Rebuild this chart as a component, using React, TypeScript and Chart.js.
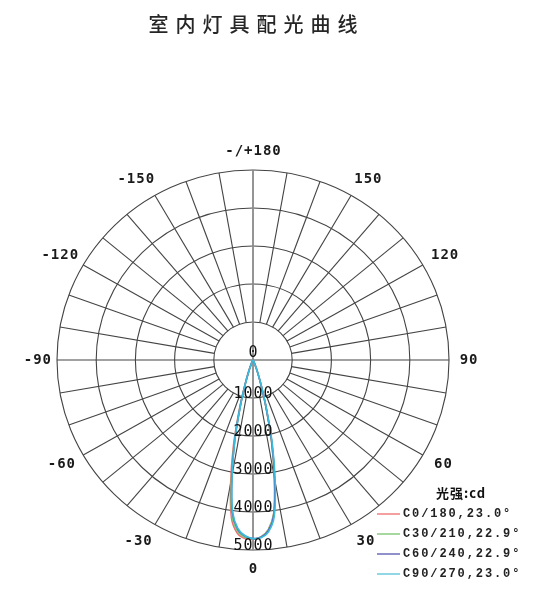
import React, { useEffect, useRef } from "react";
import { Chart, registerables } from "chart.js";

Chart.register(...registerables);

const title = "室内灯具配光曲线";
const gammaAngles = [-90, -60, -45, -40, -35, -30, -25, -20, -17.5, -15, -12.5, -10, -7.5, -5, -2.5, 0, 2.5, 5, 7.5, 10, 12.5, 15, 17.5, 20, 25, 30, 35, 40, 45, 60, 90];
const c0Values = [0, 0, 0, 2, 8, 21, 86, 350, 700, 1350, 2300, 3280, 4200, 4580, 4700, 4720, 4660, 4480, 4060, 3130, 2170, 1260, 645, 318, 79, 20, 8, 2, 0, 0, 0];
const c30Values = [0, 0, 0, 2, 7, 19, 80, 325, 660, 1280, 2210, 3170, 4110, 4520, 4670, 4710, 4660, 4490, 4070, 3140, 2180, 1260, 645, 318, 78, 19, 7, 2, 0, 0, 0];
const c60Values = [0, 0, 0, 2, 7, 18, 76, 312, 630, 1235, 2140, 3090, 4040, 4470, 4640, 4700, 4670, 4510, 4100, 3180, 2220, 1290, 660, 325, 80, 19, 7, 2, 0, 0, 0];
const c90Values = [0, 0, 0, 2, 7, 18, 75, 305, 620, 1220, 2120, 3060, 4010, 4450, 4630, 4700, 4680, 4540, 4150, 3260, 2290, 1330, 690, 340, 84, 20, 8, 2, 0, 0, 0];
const seriesLabels = ["C0/180,23.0°", "C30/210,22.9°", "C60/240,22.9°", "C90/270,23.0°"];
const seriesColors = ["#ee6c72", "#78c878", "#5a62c0", "#3cbcdc"];
const legendColors = ["#f4a0a0", "#a6d8a0", "#9090cc", "#90d8e6"];
const ringValues = [1000, 2000, 3000, 4000, 5000];
const ringLabels = ["0", "1000", "2000", "3000", "4000", "5000"];
const spokeAngles = Array.from({ length: 36 }, (_, i) => i * 10 - 170);
const angleLabelValues = [180, 150, 120, 90, 60, 30, 0, -30, -60, -90, -120, -150];
const angleLabelTexts = ["-/+180", "150", "120", "90", "60", "30", "0", "-30", "-60", "-90", "-120", "-150"];
const legendTitle = "光强:cd";

const rad = (d: number) => (d * Math.PI) / 180;
const toXY = (g: number, i: number) => ({ x: i * Math.sin(rad(g)), y: -i * Math.cos(rad(g)) });

const polarPlugin = {
  id: "polarGrid",
  beforeDatasetsDraw(chart: any) {
    const { ctx, scales } = chart;
    const sx = scales.x, sy = scales.y;
    const px = (g: number, r: number) => {
      const p = toXY(g, r);
      return [sx.getPixelForValue(p.x), sy.getPixelForValue(p.y)];
    };
    const cx = sx.getPixelForValue(0), cy = sy.getPixelForValue(0);
    ctx.save();
    ctx.strokeStyle = "#444";
    ctx.lineWidth = 1.1;
    ringValues.forEach((r) => {
      const rx = sx.getPixelForValue(r) - cx;
      const ry = cy - sy.getPixelForValue(r);
      ctx.beginPath();
      ctx.ellipse(cx, cy, rx, ry, 0, 0, Math.PI * 2);
      ctx.stroke();
    });
    const inner = ringValues[0], outer = ringValues[ringValues.length - 1];
    spokeAngles.forEach((a) => {
      if (a % 90 === 0) return;
      const [x1, y1] = px(a, inner);
      const [x2, y2] = px(a, outer);
      ctx.beginPath();
      ctx.moveTo(x1, y1);
      ctx.lineTo(x2, y2);
      ctx.stroke();
    });
    {
      const [x1, y1] = px(-90, outer);
      const [x2, y2] = px(90, outer);
      ctx.beginPath();
      ctx.moveTo(x1, y1);
      ctx.lineTo(x2, y2);
      ctx.stroke();
    }
    {
      const [x1, y1] = px(180, outer);
      const [x2, y2] = px(0, outer);
      ctx.strokeStyle = "#8a8a8a";
      ctx.lineWidth = 1.8;
      ctx.beginPath();
      ctx.moveTo(x1, y1);
      ctx.lineTo(x2, y2);
      ctx.stroke();
    }
    ctx.restore();
  },
  afterDatasetsDraw(chart: any) {
    const { ctx, scales } = chart;
    const sx = scales.x, sy = scales.y;
    const cx = sx.getPixelForValue(0);
    ctx.save();
    ctx.fillStyle = "#111";
    ctx.textAlign = "center";
    ctx.textBaseline = "middle";
    // ring labels
    ctx.font = "500 15px 'DejaVu Sans Mono'";
    (ctx as any).letterSpacing = "1px";
    ringLabels.forEach((t, i) => {
      const v = i === 0 ? 0 : ringValues[i - 1];
      const y = sy.getPixelForValue(-v) - (i === 0 ? 7 : 4);
      ctx.fillText(t, cx + 0.5, y);
    });
    // angle labels
    ctx.font = "bold 14px 'DejaVu Sans Mono'";
    ctx.fillStyle = "#1a1a1a";
    angleLabelValues.forEach((a, i) => {
      const t = angleLabelTexts[i];
      const w = ctx.measureText(t).width;
      const p = toXY(a, 5500);
      const s = Math.sin(rad(a));
      const k = Math.abs(Math.cos(rad(a))) > 0.8 ? 1 : 0.4;
      const off = Math.abs(s) > 0.99 ? 0 : (w / 2) * s * k;
      ctx.fillText(t, sx.getPixelForValue(p.x) + off + 0.5, sy.getPixelForValue(p.y));
    });
    // title
    ctx.font = "500 20px 'Noto Sans CJK SC'";
    (ctx as any).letterSpacing = "7px";
    ctx.fillStyle = "#262626";
    ctx.fillText(title, cx + 3.5, 24);
    // legend
    (ctx as any).letterSpacing = "1px";
    ctx.font = "bold 13px 'Noto Sans CJK SC'";
    ctx.fillStyle = "#111";
    ctx.fillText(legendTitle, 461, 493);
    ctx.font = "bold 12px 'Liberation Mono'";
    (ctx as any).letterSpacing = "1.9px";
    ctx.textAlign = "left";
    seriesLabels.forEach((t, i) => {
      const y = 514 + i * 20;
      ctx.strokeStyle = legendColors[i];
      ctx.lineWidth = 2;
      ctx.beginPath();
      ctx.moveTo(377, y);
      ctx.lineTo(400, y);
      ctx.stroke();
      ctx.fillStyle = "#222";
      ctx.fillText(t, 403, y);
    });
    ctx.restore();
  },
};

export default function App() {
  const ref = useRef<HTMLCanvasElement>(null);
  useEffect(() => {
    document.body.style.margin = "0";
    const series = [c0Values, c30Values, c60Values, c90Values];
    const chart = new Chart(ref.current as HTMLCanvasElement, {
      type: "scatter",
      data: {
        datasets: series.map((vals, i) => ({
          label: seriesLabels[i],
          data: gammaAngles.map((g, j) => toXY(g, vals[j])),
          showLine: true,
          borderColor: seriesColors[i],
          backgroundColor: seriesColors[i],
          borderWidth: 1.6,
          pointRadius: 0,
          tension: 0.35,
          order: series.length - i,
        })),
      },
      options: {
        responsive: false,
        animation: false,
        devicePixelRatio: 1,
        layout: { padding: 0 },
        scales: {
          x: { type: "linear", min: -6454, max: 7168, display: false },
          y: { type: "linear", min: -6368, max: 9474, display: false },
        },
        plugins: { legend: { display: false }, tooltip: { enabled: false }, title: { display: false } },
      },
      plugins: [polarPlugin],
    });
    return () => chart.destroy();
  }, []);
  return (
    <div style={{ width: 534, height: 602, background: "#fff" }}>
      <canvas ref={ref} width={534} height={602} />
    </div>
  );
}
